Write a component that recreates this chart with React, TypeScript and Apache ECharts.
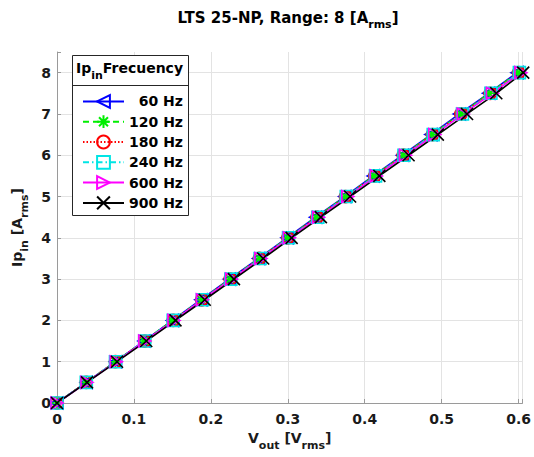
import React, { useEffect, useRef } from "react";
import * as echarts from "echarts";

const FONT = "DejaVu Sans";

// Input current (A rms), shared by every series
const ipValues = [0, 0.5, 1, 1.5, 2, 2.5, 3, 3.5, 4, 4.5, 5, 5.5, 6, 6.5, 7, 7.5, 8];

// Output voltage (V rms) per frequency
const vout60 = [0, 0.038, 0.076, 0.113, 0.150, 0.187, 0.224, 0.262, 0.299, 0.336, 0.374, 0.411, 0.449, 0.486, 0.523, 0.561, 0.598];
const vout120 = [0, 0.038, 0.076, 0.113, 0.150, 0.188, 0.225, 0.263, 0.300, 0.337, 0.375, 0.412, 0.450, 0.487, 0.525, 0.562, 0.599];
const vout180 = [0, 0.038, 0.076, 0.114, 0.151, 0.188, 0.225, 0.263, 0.300, 0.338, 0.375, 0.413, 0.450, 0.488, 0.525, 0.563, 0.600];
const vout240 = [0, 0.038, 0.076, 0.114, 0.151, 0.189, 0.226, 0.264, 0.301, 0.339, 0.376, 0.414, 0.451, 0.489, 0.527, 0.564, 0.601];
const vout600 = [0, 0.039, 0.077, 0.114, 0.152, 0.189, 0.227, 0.265, 0.302, 0.340, 0.378, 0.415, 0.453, 0.491, 0.528, 0.566, 0.603];
const vout900 = [0, 0.039, 0.078, 0.116, 0.154, 0.192, 0.230, 0.268, 0.305, 0.343, 0.381, 0.419, 0.457, 0.495, 0.533, 0.571, 0.606];

const seriesNames = ["60 Hz", "120 Hz", "180 Hz", "240 Hz", "600 Hz", "900 Hz"];
const seriesVout = [vout60, vout120, vout180, vout240, vout600, vout900];

const xTicks = [0, 0.1, 0.2, 0.3, 0.4, 0.5, 0.6];
const yTicks = [0, 1, 2, 3, 4, 5, 6, 7, 8];

const styles = [
  { color: "#0000ff", symbol: "path://M0,5L10,0L10,10Z", dash: "solid" as any },
  { color: "#00ee00", symbol: "path://M5,0L5,10M0,5L10,5M1.5,1.5L8.5,8.5M8.5,1.5L1.5,8.5", dash: [6, 4] as any },
  { color: "#ff0000", symbol: "circle", dash: [1.5, 2] as any },
  { color: "#00e5e5", symbol: "rect", dash: [6, 3, 1.5, 3] as any },
  { color: "#ff00ff", symbol: "path://M10,5L0,0L0,10Z", dash: "solid" as any },
  { color: "#000000", symbol: "path://M0,0L10,10M10,0L0,10", dash: "solid" as any },
];

export default function App() {
  const ref = useRef<HTMLDivElement>(null);
  useEffect(() => {
    if (!ref.current) return;
    const chart = echarts.init(ref.current, undefined, { renderer: "svg" });
    const isTick = (arr: number[], v: number) => arr.some((t) => Math.abs(t - v) < 1e-6);
    const series = seriesNames.map((name, k) => ({
      name,
      type: "line",
      data: seriesVout[k].map((x, i) => [x, ipValues[i]]),
      symbol: styles[k].symbol,
      symbolSize: 12,
      symbolKeepAspect: true,
      showAllSymbol: true,
      clip: false,
      lineStyle: { color: styles[k].color, width: 1.6, type: styles[k].dash },
      itemStyle: { color: "transparent", borderColor: styles[k].color, borderWidth: 1.6 },
      emphasis: { disabled: true },
    }));
    const labelStyle = { fontFamily: FONT, fontWeight: "bold" as any, fontSize: 14, color: "#1a1a1a" };
    const nameRich = {
      a: { fontFamily: FONT, fontWeight: "bold", fontSize: 14, color: "#1a1a1a", lineHeight: 17, verticalAlign: "top" },
      s: { fontFamily: FONT, fontWeight: "bold", fontSize: 11, color: "#1a1a1a", lineHeight: 11, padding: [9, 0, 0, 0], verticalAlign: "top" },
    };
    chart.setOption({
      animation: false,
      backgroundColor: "#ffffff",
      title: {
        text: "{a|LTS 25-NP, Range: 8 [A}{s|rms}{a|]}",
        left: 288,
        textAlign: "center",
        top: 10,
        padding: 0,
        textStyle: {
          rich: {
            a: { fontFamily: FONT, fontWeight: "bold", fontSize: 15, color: "#000", lineHeight: 18, verticalAlign: "top" },
            s: { fontFamily: FONT, fontWeight: "bold", fontSize: 11, color: "#000", lineHeight: 11, padding: [9, 0, 0, 0], verticalAlign: "top" },
          },
        },
      },
      grid: { left: 57, right: 11, top: 52, bottom: 54, containLabel: false },
      xAxis: {
        type: "value",
        min: 0,
        max: 0.605,
        interval: 0.1,
        name: "{a|V}{s|out}{a| [V}{s|rms}{a|]}",
        nameLocation: "middle",
        nameGap: 20,
        nameTextStyle: { rich: nameRich },
        axisLine: { show: true, lineStyle: { color: "#9a9a9a", width: 1 } },
        axisTick: { show: true, inside: true, length: 4, lineStyle: { color: "#9a9a9a" } },
        axisLabel: {
          ...labelStyle,
          margin: 9,
          formatter: (v: number) => (isTick(xTicks, v) ? String(+v.toFixed(1)) : ""),
        },
        splitLine: { show: true, lineStyle: { color: "#e3e3e3", width: 1 } },
      },
      yAxis: {
        type: "value",
        min: 0,
        max: 8.5,
        interval: 1,
        name: "{a|Ip}{s|in}{a| [A}{s|rms}{a|]}",
        nameLocation: "middle",
        nameGap: 22,
        nameRotate: 90,
        nameTextStyle: { rich: nameRich },
        axisLine: { show: true, lineStyle: { color: "#9a9a9a", width: 1 } },
        axisTick: { show: true, inside: true, length: 4, lineStyle: { color: "#9a9a9a" } },
        axisLabel: {
          ...labelStyle,
          margin: 6,
          formatter: (v: number) => (isTick(yTicks, v) ? String(v) : ""),
        },
        splitLine: { show: true, showMaxLine: false, lineStyle: { color: "#e3e3e3", width: 1 } },
      },
      legend: {
        orient: "vertical",
        left: 82,
        top: 94,
        padding: 0,
        itemWidth: 41,
        itemHeight: 16,
        itemGap: 5.5,
        z: 10,
        selectedMode: false,
        formatter: (name: string) => `{n|${name}}`,
        textStyle: {
          rich: {
            n: { fontFamily: FONT, fontWeight: "bold", fontSize: 14, color: "#000", width: 54, align: "right" },
          },
        },
        data: seriesNames,
      },
      graphic: [
        {
          type: "rect",
          z: 9,
          shape: { x: 72.5, y: 55.5, width: 116, height: 160 },
          style: { fill: "#ffffff", stroke: "#262626", lineWidth: 1 },
        },
        {
          type: "line",
          z: 9,
          shape: { x1: 72.5, y1: 85.5, x2: 188.5, y2: 85.5 },
          style: { stroke: "#262626", lineWidth: 1 },
        },
        {
          type: "text",
          z: 10,
          x: 76,
          y: 61,
          style: {
            text: "{a|Ip}{s|in}{a|Frecuency}",
            rich: {
              a: { fontFamily: FONT, fontWeight: "bold", fontSize: 14, fill: "#000", lineHeight: 17, verticalAlign: "top" },
              s: { fontFamily: FONT, fontWeight: "bold", fontSize: 11, fill: "#000", lineHeight: 11, padding: [9, 0, 0, 0], verticalAlign: "top" },
            },
          },
        },
      ],
      series,
    });
    return () => chart.dispose();
  }, []);
  return <div ref={ref} style={{ position: "fixed", left: 0, top: 0, width: 534, height: 457 }} />;
}
